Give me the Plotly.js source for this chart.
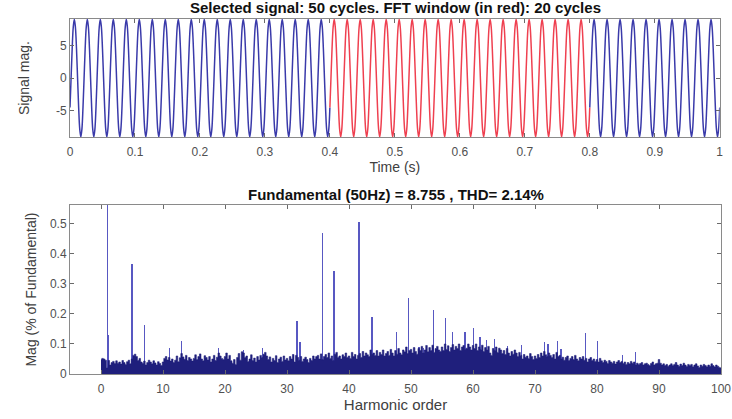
<!DOCTYPE html>
<html>
<head>
<meta charset="utf-8">
<script src="https://cdn.plot.ly/plotly-3.0.1.min.js"></script>
<style>
  html, body { margin: 0; padding: 0; background: #ffffff; }
  #chart { width: 732px; height: 419px; }
</style>
</head>
<body>
<div id="chart"></div>
<script>
// ---- Time-domain signal: one period of the waveform (12 samples), repeated over the record
const cycleWave = [-4.55, 0, 4.55, 7.88, 9.1, 7.88, 4.55, 0, -4.55, -7.88, -9.1, -7.88];
const cycleCount = 50;
const cyclePeriod = 0.02;          // s (50 Hz)
const fftWindow = [0.4, 0.8];      // s, highlighted in red
const timeTicks = [0, 0.1, 0.2, 0.3, 0.4, 0.5, 0.6, 0.7, 0.8, 0.9, 1];
const signalTicks = [-5, 0, 5];
const signalTickText = ['-5', '0', '5'];

// ---- Spectrum: broadband noise floor, sampled every 0.25 harmonic order
const noiseStep = 0.25;
const noiseMag = [
  0.048,0.052,0.05,0.046, 0.02,0.045,0.03,0.038, 0.042,0.035,0.044,0.036, 0.04,0.033,0.045,0.038, 0.032,0.041,0.046,0.034,
  0.05,0.062,0.066,0.058, 0.045,0.052,0.04,0.036, 0.043,0.03,0.038,0.046, 0.04,0.034,0.044,0.037, 0.03,0.041,0.035,0.028,
  0.04,0.052,0.058,0.047, 0.055,0.043,0.05,0.038, 0.046,0.06,0.041,0.054, 0.068,0.057,0.049,0.062, 0.045,0.055,0.05,0.043,
  0.052,0.064,0.048,0.058, 0.067,0.05,0.044,0.061, 0.055,0.047,0.058,0.04, 0.05,0.062,0.045,0.056, 0.07,0.06,0.052,0.048,
  0.058,0.07,0.05,0.062, 0.044,0.036,0.048,0.032, 0.055,0.068,0.046,0.074, 0.07,0.055,0.06,0.042, 0.05,0.064,0.045,0.053,
  0.04,0.058,0.047,0.062, 0.055,0.066,0.072,0.06, 0.048,0.057,0.04,0.052, 0.045,0.061,0.038,0.05, 0.056,0.042,0.06,0.047,
  0.052,0.044,0.058,0.05, 0.065,0.04,0.062,0.055, 0.046,0.058,0.042,0.05, 0.056,0.048,0.038,0.052, 0.045,0.06,0.05,0.058,
  0.062,0.05,0.067,0.048, 0.058,0.065,0.055,0.07, 0.052,0.06,0.045,0.066, 0.072,0.055,0.06,0.05, 0.064,0.058,0.07,0.055,
  0.06,0.052,0.072,0.058, 0.065,0.05,0.062,0.068, 0.055,0.075,0.06,0.07, 0.064,0.058,0.08,0.066, 0.07,0.062,0.078,0.06,
  0.072,0.065,0.08,0.06, 0.068,0.075,0.062,0.082, 0.07,0.06,0.078,0.066, 0.085,0.07,0.064,0.08, 0.074,0.09,0.068,0.078,
  0.082,0.07,0.088,0.075, 0.066,0.085,0.078,0.092, 0.07,0.08,0.095,0.074, 0.088,0.078,0.096,0.072, 0.085,0.092,0.08,0.075,
  0.09,0.078,0.1,0.082, 0.094,0.075,0.088,0.098, 0.08,0.092,0.085,0.1, 0.078,0.09,0.095,0.082, 0.086,0.1,0.09,0.08,
  0.095,0.085,0.1,0.078, 0.09,0.082,0.096,0.075, 0.088,0.08,0.092,0.07, 0.062,0.085,0.078,0.09, 0.072,0.086,0.08,0.068,
  0.078,0.065,0.085,0.07, 0.06,0.075,0.066,0.08, 0.07,0.058,0.072,0.062, 0.05,0.065,0.056,0.06, 0.052,0.068,0.058,0.048,
  0.06,0.052,0.065,0.055, 0.07,0.06,0.075,0.064, 0.058,0.07,0.062,0.055, 0.065,0.05,0.072,0.058, 0.062,0.05,0.056,0.046,
  0.055,0.06,0.045,0.052, 0.058,0.048,0.062,0.05, 0.044,0.055,0.05,0.058, 0.046,0.052,0.04,0.05, 0.055,0.045,0.05,0.042,
  0.048,0.04,0.052,0.044, 0.038,0.046,0.042,0.035, 0.045,0.04,0.036,0.042, 0.033,0.04,0.045,0.038, 0.042,0.035,0.04,0.032,
  0.038,0.034,0.042,0.036, 0.04,0.03,0.036,0.032, 0.035,0.038,0.03,0.034, 0.036,0.032,0.028,0.035, 0.04,0.03,0.034,0.036,
  0.048,0.036,0.03,0.034, 0.028,0.032,0.026,0.03, 0.034,0.028,0.032,0.038, 0.03,0.026,0.033,0.028, 0.036,0.03,0.025,0.032,
  0.028,0.032,0.024,0.03, 0.034,0.027,0.022,0.03, 0.026,0.032,0.028,0.024, 0.03,0.026,0.034,0.028, 0.024,0.03,0.026,0.022,
  0.02
];

// ---- Spectrum: discrete lines (harmonic order, % of fundamental)
const lineOrder = [1, 1.2, 5, 7, 11, 13, 19, 23, 26, 31.6, 32.1, 35.7, 37.6, 41.6, 43.7, 47.7, 49.6,
                   51.3, 52, 53.6, 55.6, 56.7, 58.7, 60.1, 61.1, 62.2, 63.5, 65.6, 67.8,
                   71.5, 72.1, 73.6, 74.2, 78.1, 80.1, 84.1, 86.2];
const lineMag = [100, 0.13, 0.366, 0.163, 0.088, 0.111, 0.086, 0.08, 0.088, 0.178, 0.108, 0.471, 0.343, 0.508, 0.189, 0.141, 0.252,
                 0.09, 0.088, 0.213, 0.186, 0.139, 0.139, 0.152, 0.124, 0.113, 0.115, 0.093, 0.097,
                 0.108, 0.1, 0.11, 0.082, 0.136, 0.11, 0.063, 0.074];
const harmonicTicks = [0, 10, 20, 30, 40, 50, 60, 70, 80, 90, 100];
const magTicks = [0, 0.1, 0.2, 0.3, 0.4, 0.5];

// ---- build the sampled record and split it around the FFT window
const samplesPerCycle = cycleWave.length;
const tAll = [], yAll = [];
for (let k = 0; k <= cycleCount * samplesPerCycle; k++) {
  tAll.push(k * cyclePeriod / samplesPerCycle);
  yAll.push(cycleWave[k % samplesPerCycle]);
}
function segment(t0, t1) {
  const t = [], y = [];
  tAll.forEach((v, i) => {
    if (v >= t0 - 1e-9 && v <= t1 + 1e-9) { t.push(v); y.push(yAll[i]); }
  });
  return { t, y };
}
const segA = segment(0, fftWindow[0]);
const segW = segment(fftWindow[0], fftWindow[1]);
const segB = segment(fftWindow[1], tAll[tAll.length - 1]);

const noiseOrder = noiseMag.map((_, i) => i * noiseStep);

const BLUE = '#3a3aaa';
const RED = '#ef4050';
const NAVY = '#1f1f7c';
const FONT = 'Liberation Sans, Arial, sans-serif';
const sigLine = (seg, color) => ({
  type: 'scatter', mode: 'lines', x: seg.t, y: seg.y,
  line: { color: color, width: 1.5, shape: 'spline', smoothing: 1 },
  xaxis: 'x', yaxis: 'y', hoverinfo: 'skip', showlegend: false
});

const traces = [
  sigLine(segA, BLUE),
  sigLine(segW, RED),
  sigLine(segB, BLUE),
  {
    // isolated spectral lines
    type: 'bar', x: lineOrder, y: lineMag, width: 0.22,
    marker: { color: '#5858c2', line: { width: 0 } },
    xaxis: 'x2', yaxis: 'y2', hoverinfo: 'skip', showlegend: false
  },
  {
    // dense noise floor drawn as one stepped, filled outline (bins of noiseStep)
    type: 'scatter', mode: 'lines', x: noiseOrder, y: noiseMag,
    line: { color: NAVY, width: 0.6, shape: 'hvh' },
    fill: 'tozeroy', fillcolor: NAVY,
    xaxis: 'x2', yaxis: 'y2', hoverinfo: 'skip', showlegend: false
  }
];

const axisCommon = {
  showline: true, linecolor: '#8a8a8a', linewidth: 1, mirror: 'allticks',
  ticks: 'inside', ticklen: 4, tickcolor: '#6a6a6a', tickwidth: 1,
  showgrid: false, zeroline: false,
  tickfont: { family: FONT, size: 12, color: '#505050' }
};

const layout = {
  width: 732, height: 419,
  margin: { l: 70, r: 11, t: 19, b: 45 },
  paper_bgcolor: '#ffffff', plot_bgcolor: '#ffffff',
  barmode: 'overlay', bargap: 0,
  showlegend: false,
  xaxis: Object.assign({}, axisCommon, {
    domain: [0, 0.998], anchor: 'y', range: [0, 1],
    tickvals: timeTicks, ticklabelstandoff: 4,
    title: { text: 'Time (s)', font: { family: FONT, size: 14, color: '#404040' }, standoff: 3 }
  }),
  yaxis: Object.assign({}, axisCommon, {
    domain: [0.6676, 1], anchor: 'x', range: [-9.1, 9.15],
    tickvals: signalTicks, ticktext: signalTickText,
    title: { text: 'Signal mag.', font: { family: FONT, size: 14, color: '#404040' }, standoff: 23 }
  }),
  xaxis2: Object.assign({}, axisCommon, {
    domain: [0, 1], anchor: 'y2', range: [-5, 100],
    tickvals: harmonicTicks, ticklabelstandoff: 4,
    title: { text: 'Harmonic order', font: { family: FONT, size: 15, color: '#404040' }, standoff: 2 }
  }),
  yaxis2: Object.assign({}, axisCommon, {
    domain: [0, 0.476], anchor: 'x2', range: [0, 0.563],
    tickvals: magTicks,
    title: { text: 'Mag (% of Fundamental)', font: { family: FONT, size: 14, color: '#404040' }, standoff: 10 }
  }),
  annotations: [
    {
      text: '<b>Selected signal: 50 cycles. FFT window (in red): 20 cycles</b>',
      xref: 'paper', yref: 'paper', x: 0.5, y: 1, yshift: 1,
      xanchor: 'center', yanchor: 'bottom', showarrow: false,
      font: { family: FONT, size: 15, color: '#111111' }
    },
    {
      text: '<b>Fundamental (50Hz) = 8.755 , THD= 2.14%</b>',
      xref: 'paper', yref: 'paper', x: 0.5, y: 0.476, yshift: 0,
      xanchor: 'center', yanchor: 'bottom', showarrow: false,
      font: { family: FONT, size: 15, color: '#111111' }
    }
  ]
};

Plotly.newPlot('chart', traces, layout, { staticPlot: true, displayModeBar: false });
</script>
</body>
</html>
